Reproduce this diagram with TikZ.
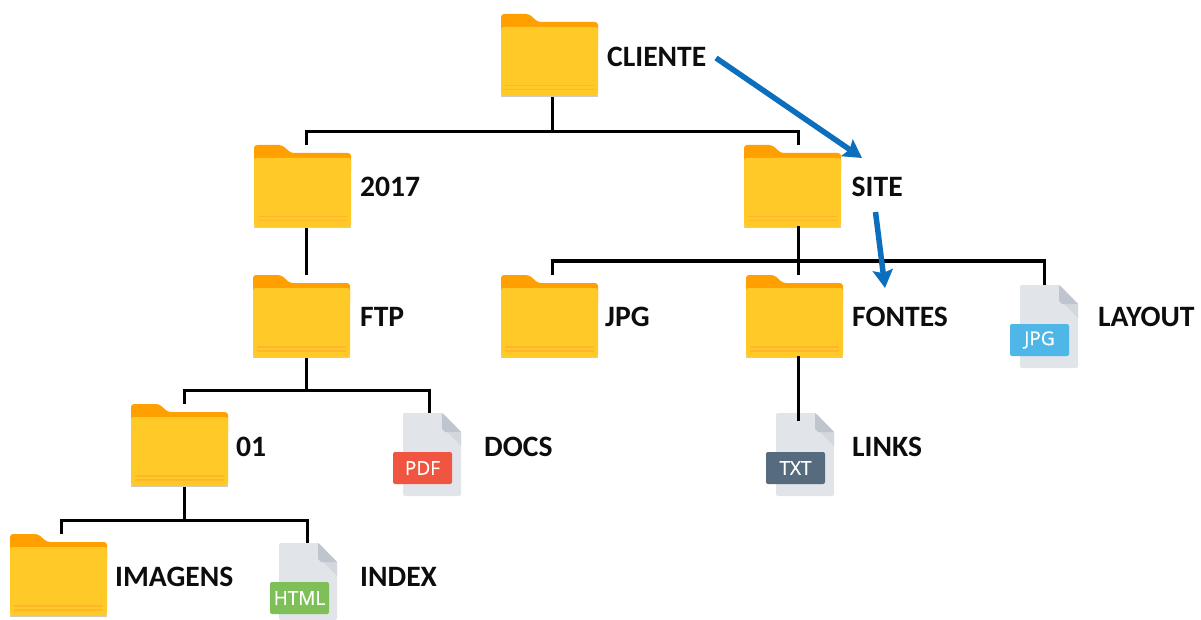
\documentclass[tikz,border=0pt]{standalone}
\usepackage{fontspec}
\setmainfont{Carlito}
\newfontfamily\badgefont[FakeBold=0.5]{Open Sans}
\usetikzlibrary{arrows.meta}
\definecolor{fback}{HTML}{FFA000}
\definecolor{ffront}{HTML}{FFCA28}
\definecolor{fline}{HTML}{FFB62A}
\definecolor{fileb}{HTML}{E1E4E8}
\definecolor{filef}{HTML}{BFC5CE}
\definecolor{files}{HTML}{D3D7DE}
\definecolor{arrowblue}{HTML}{0B6FBE}
\definecolor{bpdf}{HTML}{F05542}
\definecolor{bhtml}{HTML}{7FBF58}
\definecolor{btxt}{HTML}{566B7E}
\definecolor{bjpg}{HTML}{4FB6E8}
\tikzset{
  x=1pt,y=-1pt,
  folderbox/.style={anchor=north west,inner sep=0pt,outer sep=0pt,minimum width=97pt,minimum height=83pt},
  filebox/.style={anchor=north west,inner sep=0pt,outer sep=0pt,minimum width=58pt,minimum height=83pt},
  badge/.style={anchor=north west,inner sep=0pt,outer sep=0pt,minimum width=59pt,minimum height=32pt,
    rounded corners=2pt,fill=#1,text=white,font=\badgefont\fontsize{19}{19}\selectfont},
  lbl/.style={anchor=base west,inner sep=0pt,font=\bfseries\fontsize{29.6}{30}\selectfont,text=black!95},
  tree/.style={draw=black,line width=3pt},
  flow/.style={draw=arrowblue,line width=5.5pt,-{Stealth[length=18pt,width=20pt,inset=3pt]}}
}
\newcommand\myfolder[3]{%
  \begin{scope}[shift={(#2,#3)}]
    \fill[black!20] (0,81) rectangle (97,83);
    \fill[fback,rounded corners=3pt] (0,0) -- (28,0) -- (37,8) -- (97,8) -- (97,30) -- (0,30) -- cycle;
    \fill[ffront,rounded corners=2.5pt] (0,13) -- (97,13) -- (97,82) -- (0,82) -- cycle;
    \fill[fline] (4,71) rectangle (93,72.5);
    \fill[fline] (4,75) rectangle (93,76.5);
  \end{scope}
  \node[folderbox] (#1) at (#2,#3) {};}
\newcommand\myfile[4]{%
  \begin{scope}[shift={(#2,#3)}]
    \fill[fileb,rounded corners=2pt] (0,0) -- (40,0) -- (58,19) -- (58,#4) -- (0,#4) -- cycle;
    \fill[files] (42,17) -- (58,19) -- (58,33) -- cycle;
    \fill[filef] (39,0) -- (58,19) -- (42,19) -- (39,16) -- cycle;
  \end{scope}
  \node[filebox] (#1) at (#2,#3) {};}
\begin{document}
\begin{tikzpicture}
\useasboundingbox (0,0) rectangle (1201,620);
% folders
\myfolder{cliente}{501}{14}
\myfolder{y2017}{254}{145}
\myfolder{site}{744}{145}
\myfolder{ftp}{253}{275}
\myfolder{jpg}{501}{275}
\myfolder{fontes}{746}{275}
\myfolder{n01}{131}{404}
\myfolder{imagens}{10}{534}
% files
\myfile{layout}{1020}{285}{83}
\node[badge=bjpg] (bl) at (1010,324) {JPG};
\myfile{docs}{403}{413}{83}
\node[badge=bpdf] (bd) at (393,452) {PDF};
\myfile{links}{776}{413}{83}
\node[badge=btxt] (bt) at (766,452) {TXT};
\myfile{index}{279}{543}{77}
\node[badge=bhtml] (bi) at (270,582) {HTML};
% labels
\node[lbl] (lcliente) at (607,67) {CLIENTE};
\node[lbl] (l2017) at (360,197) {2017};
\node[lbl] (lsite) at (851.5,197) {SITE};
\node[lbl] (lftp) at (360,326) {FTP};
\node[lbl] (ljpg) at (605,326) {JPG};
\node[lbl] (lfontes) at (852,326) {FONTES};
\node[lbl] (llayout) at (1098,326) {LAYOUT};
\node[lbl] (l01) at (236,456) {01};
\node[lbl] (ldocs) at (484,456) {DOCS};
\node[lbl] (llinks) at (852,456) {LINKS};
\node[lbl] (limagens) at (115,586) {IMAGENS};
\node[lbl] (lindex) at (360,586) {INDEX};
% junctions
\coordinate (j1) at (552,132);
\coordinate (j2) at (798,261);
\coordinate (j3) at (306,390);
\coordinate (j4) at (184,520);
% tree connectors
\draw[tree] ([xshift=2.5pt]cliente.south) -- (j1);
\draw[tree] ([xshift=3.5pt]y2017.north) |- (j1) -| ([xshift=5.5pt]site.north);
\draw[tree] ([xshift=3.5pt]y2017.south) -- ([xshift=4.5pt]ftp.north);
\draw[tree] ([xshift=5.5pt,yshift=2pt]site.south) -- ([xshift=3.5pt]fontes.north);
\draw[tree] ([xshift=2.5pt]jpg.north) |- (j2) -| ([xshift=-5pt]layout.north);
\draw[tree] ([xshift=4.5pt]ftp.south) -- (j3);
\draw[tree] ([xshift=4.5pt]n01.north) |- (j3) -| ([xshift=-3pt]docs.north);
\draw[tree] ([xshift=4.5pt]n01.south) -- (j4);
\draw[tree] ([xshift=2.5pt]imagens.north) |- (j4) -| ([xshift=-1pt]index.north);
\draw[tree] ([xshift=3.5pt,yshift=2pt]fontes.south) -- ([xshift=-7pt,yshift=-8pt]links.north);
% blue arrows
\coordinate (a1) at (716,58);
\coordinate (a2) at (862,158);
\coordinate (a3) at (875.5,212);
\coordinate (a4) at (885,288);
\draw[flow] (a1) -- (a2);
\draw[flow] (a3) -- (a4);
\end{tikzpicture}
\end{document}
